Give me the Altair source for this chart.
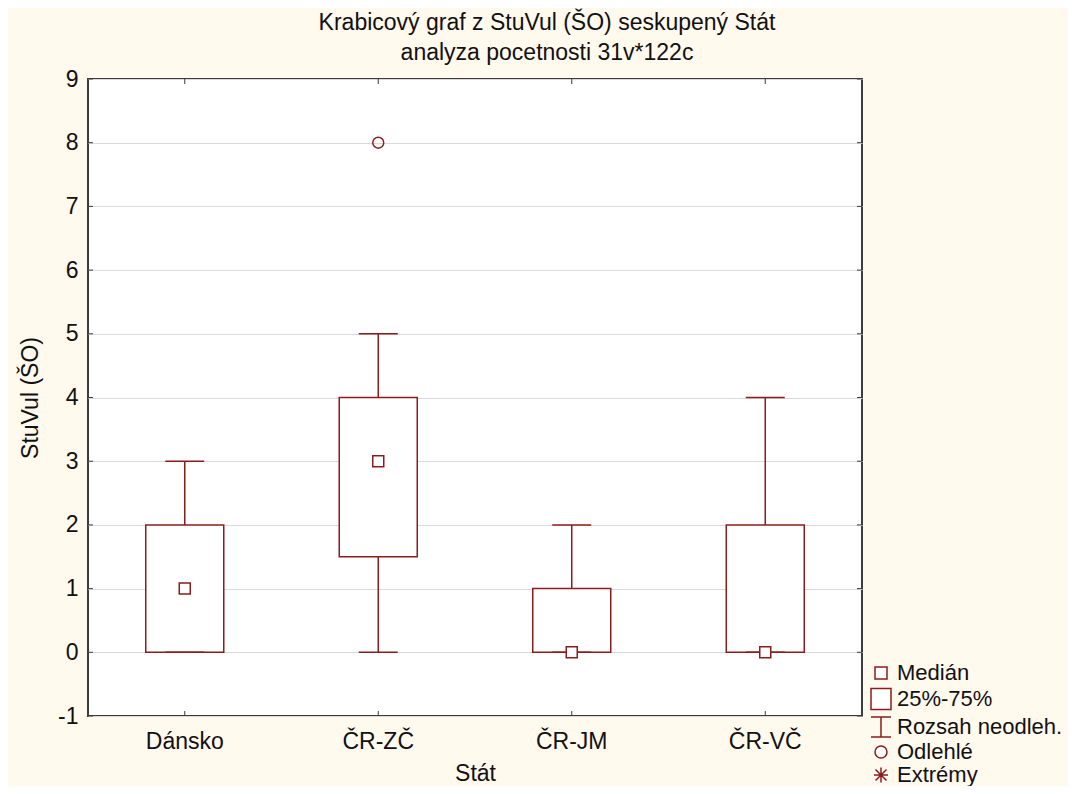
import altair as alt
import pandas as pd

# ---- data ----
states = ["Dánsko", "ČR-ZČ", "ČR-JM", "ČR-VČ"]
mins = [0, 0, 0, 0]
q1 = [0, 1.5, 0, 0]
medians = [1, 3, 0, 0]
q3 = [2, 4, 1, 2]
maxs = [3, 5, 2, 4]
outlier_states = ["ČR-ZČ"]
outlier_values = [8]
y_ticks = [-1, 0, 1, 2, 3, 4, 5, 6, 7, 8, 9]
legend_labels = ["Medián", "25%-75%", "Rozsah neodleh.", "Odlehlé", "Extrémy"]
legend_paths = [
    "M-0.6,-0.6H0.6V0.6H-0.6Z",
    "M-1,-1.05H1V1.05H-1Z",
    "M-1,-1H1M0,-1V1M-1,1H1",
    "M0.6,0A0.6,0.6 0 1,1 -0.6,0A0.6,0.6 0 1,1 0.6,0Z",
    "M-0.7,0H0.7M0,-0.75V0.75M-0.55,-0.55L0.55,0.55M-0.55,0.55L0.55,-0.55",
]

RED = "#8B1C1C"
FRAME = "#3c3c3c"
FONT = "Liberation Sans"
FS = 23
W, H = 774, 637

box_df = pd.DataFrame({"state": states, "min": mins, "q1": q1, "median": medians,
                       "q3": q3, "max": maxs})
out_df = pd.DataFrame({"state": outlier_states, "value": outlier_values})
tick_df = pd.DataFrame({"v": y_ticks})
leg_df = pd.DataFrame({"item": legend_labels})

xs = alt.Scale(domain=states, paddingInner=0, paddingOuter=0)
ys = alt.Scale(domain=[-1, 9], nice=False, zero=False)

x_enc = alt.X("state:N", scale=xs, sort=states,
              axis=alt.Axis(title="Stát", labelAngle=0, ticks=False, domain=False,
                            grid=False, labelPadding=14, titlePadding=9))

base = alt.Chart(box_df)

whisker = base.mark_rule(color=RED, strokeWidth=1.5).encode(
    x=x_enc,
    y=alt.Y("min:Q", scale=ys,
            axis=alt.Axis(title="StuVul (ŠO)", values=y_ticks, grid=True,
                          labelExpr="'' + datum.value",
                          gridColor="#d9d9d9", gridWidth=1, ticks=False,
                          domain=False, labelPadding=10, titlePadding=15)),
    y2="max:Q",
)

box = base.mark_bar(size=78, fill="white", stroke=RED, strokeWidth=1.5,
                    opacity=1).encode(x=x_enc, y=alt.Y("q1:Q", scale=ys), y2="q3:Q")

cap_lo = base.mark_tick(size=39, thickness=1.5, color=RED, opacity=1).encode(
    x=x_enc, y=alt.Y("min:Q", scale=ys))
cap_hi = base.mark_tick(size=39, thickness=1.5, color=RED, opacity=1).encode(
    x=x_enc, y=alt.Y("max:Q", scale=ys))

median = base.mark_square(size=121, filled=True, fill="white", stroke=RED,
                          strokeWidth=1.5, opacity=1).encode(
    x=x_enc, y=alt.Y("median:Q", scale=ys))

outl = alt.Chart(out_df).mark_point(shape="circle", size=120, filled=False,
                                    color=RED, strokeWidth=1.5, opacity=1).encode(
    x=x_enc, y=alt.Y("value:Q", scale=ys))

# inward ticks on the frame
yt_left = alt.Chart(tick_df).mark_rule(color=FRAME, strokeWidth=1).encode(
    y=alt.Y("v:Q", scale=ys), x=alt.value(0), x2=alt.value(5))
yt_right = alt.Chart(tick_df).mark_rule(color=FRAME, strokeWidth=1).encode(
    y=alt.Y("v:Q", scale=ys), x=alt.value(W - 5), x2=alt.value(W))
xt_bottom = base.mark_rule(color=FRAME, strokeWidth=1).encode(
    x=x_enc, y=alt.value(H - 5), y2=alt.value(H))
xt_top = base.mark_rule(color=FRAME, strokeWidth=1).encode(
    x=x_enc, y=alt.value(0), y2=alt.value(5))

legend_layer = alt.Chart(leg_df).mark_point(clip=True, filled=True, fill="white",
                                            stroke=RED, strokeWidth=1.5,
                                            opacity=1).encode(
    x=alt.value(-200), y=alt.value(-200),
    shape=alt.Shape("item:N", sort=legend_labels,
                    scale=alt.Scale(domain=legend_labels, range=legend_paths),
                    legend=alt.Legend(title=None, orient="none", legendX=782,
                                      legendY=583, symbolSize=400,
                                      symbolStrokeWidth=1.5, labelFontSize=22,
                                      labelFont=FONT, labelColor="#111111",
                                      labelLimit=400, rowPadding=1,
                                      labelOffset=5, padding=0)),
)

chart = alt.layer(
    whisker, box, cap_lo, cap_hi, median, outl,
    yt_left, yt_right, xt_bottom, xt_top, legend_layer,
).properties(
    width=W, height=H,
    title=alt.TitleParams(
        text=["Krabicový graf z StuVul (ŠO) seskupený Stát",
              "analyza pocetnosti 31v*122c"],
        fontSize=FS, font=FONT, fontWeight="normal", color="#111111",
        lineHeight=30, anchor="middle", dx=72, offset=3),
    autosize=alt.AutoSizeParams(type="none"),
    padding={"left": 80, "top": 71, "right": 206, "bottom": 70},
    background="#FFF9EE",
).configure_view(
    fill="white", stroke=FRAME, strokeWidth=2,
).configure_axis(
    labelFont=FONT, titleFont=FONT, labelFontSize=FS, titleFontSize=FS,
    titleFontWeight="normal", labelColor="#111111", titleColor="#111111",
)

chart.save("out.html", embed_options={"renderer": "svg", "actions": False})
